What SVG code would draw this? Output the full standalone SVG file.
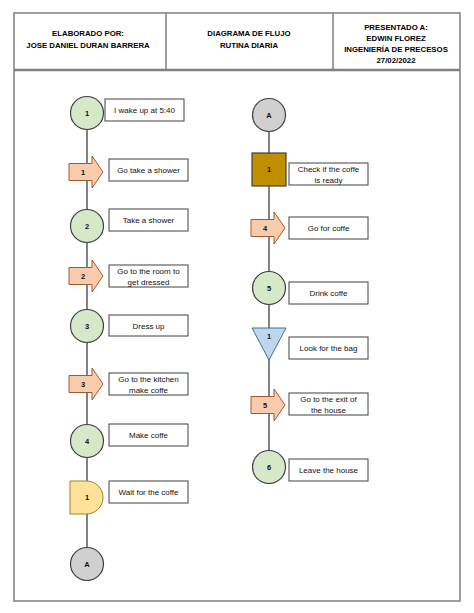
<svg xmlns="http://www.w3.org/2000/svg" width="474" height="613" viewBox="0 0 474 613">
<style>
.frame{fill:none;stroke:#7f7f7f;stroke-width:1.5}
.hdr{font-family:"Liberation Sans",Arial,sans-serif;font-size:7.8px;font-weight:bold;fill:#000;text-anchor:middle}
.lbl{font-family:"Liberation Sans",Arial,sans-serif;font-size:8px;fill:#111;text-anchor:middle}
.num{font-family:"Liberation Sans",Arial,sans-serif;font-size:7.5px;font-weight:bold;fill:#111;text-anchor:middle}
.box{fill:#fff;stroke:#404040;stroke-width:1}
.op{fill:#d5e8c8;stroke:#404040;stroke-width:1.2}
.con{fill:#d0d0d0;stroke:#404040;stroke-width:1.2}
.tr{fill:#f8cbad;stroke:#a05a2c;stroke-width:1}
.dl{fill:#ffe29a;stroke:#a08030;stroke-width:1}
.in{fill:#bf8f00;stroke:#404040;stroke-width:1.2}
.st{fill:#bdd7ee;stroke:#41719c;stroke-width:1}
.ln{stroke:#595959;stroke-width:1.5;fill:none}
</style>
<defs>
<path id="arr" d="M-18,-8.5 H5 V-16 L16,0 L5,16 V8.5 H-18 Z"/>
</defs>
<rect width="474" height="613" fill="#fff"/>
<g id="frame">
<rect class="frame" x="14" y="13" width="446" height="588"/>
<line x1="14" y1="70" x2="460" y2="70" stroke="#7f7f7f" stroke-width="2.5"/>
<line class="frame" x1="166" y1="13" x2="166" y2="70"/>
<line class="frame" x1="333" y1="13" x2="333" y2="70"/>
<text class="hdr" x="88" y="36">ELABORADO POR:</text>
<text class="hdr" x="88" y="48">JOSE DANIEL DURAN BARRERA</text>
<text class="hdr" x="249" y="36">DIAGRAMA DE FLUJO</text>
<text class="hdr" x="249" y="48">RUTINA DIARIA</text>
<text class="hdr" x="396" y="30">PRESENTADO A:</text>
<text class="hdr" x="396" y="41">EDWIN FLOREZ</text>
<text class="hdr" x="396" y="52">INGENIERÍA DE PRECESOS</text>
<text class="hdr" x="396" y="63">27/02/2022</text>
</g>
<g id="connectors">
<line class="ln" x1="87" y1="113" x2="87" y2="564"/>
<line class="ln" x1="269" y1="115" x2="269" y2="467"/>
</g>
<g id="n1"><circle class="op" cx="87" cy="113" r="16.5"/><text class="num" x="87" y="115.5">1</text>
<rect class="box" x="105" y="99" width="79" height="22"/><text class="lbl" x="144.5" y="113">I wake up at 5:40</text></g>
<g id="t1"><use href="#arr" class="tr" x="87" y="172"/><text class="num" x="83" y="174.5">1</text>
<rect class="box" x="109" y="159" width="79" height="22"/><text class="lbl" x="148.5" y="173">Go take a shower</text></g>
<g id="n2"><circle class="op" cx="87" cy="226" r="16.5"/><text class="num" x="87" y="228.5">2</text>
<rect class="box" x="109" y="209" width="79" height="22"/><text class="lbl" x="148.5" y="223">Take a shower</text></g>
<g id="t2"><use href="#arr" class="tr" x="87" y="276"/><text class="num" x="83" y="278.5">2</text>
<rect class="box" x="109" y="265" width="79" height="22"/><text class="lbl" x="148.5" y="274">Go to the room to</text><text class="lbl" x="148.5" y="284.5">get dressed</text></g>
<g id="n3"><circle class="op" cx="87" cy="326" r="16.5"/><text class="num" x="87" y="328.5">3</text>
<rect class="box" x="109" y="315" width="79" height="21"/><text class="lbl" x="148.5" y="328.5">Dress up</text></g>
<g id="t3"><use href="#arr" class="tr" x="87" y="384"/><text class="num" x="83" y="386.5">3</text>
<rect class="box" x="109" y="373" width="79" height="22"/><text class="lbl" x="148.5" y="382">Go to the kitchen</text><text class="lbl" x="148.5" y="392.5">make coffe</text></g>
<g id="n4"><circle class="op" cx="87" cy="441" r="16.5"/><text class="num" x="87" y="443.5">4</text>
<rect class="box" x="109" y="424" width="79" height="22"/><text class="lbl" x="148.5" y="438">Make coffe</text></g>
<g id="d1"><path class="dl" d="M70,481 H86.5 A16.5,16.5 0 0 1 86.5,514 H70 Z"/><text class="num" x="87" y="500">1</text>
<rect class="box" x="109" y="481" width="79" height="22"/><text class="lbl" x="148.5" y="495">Wait for the coffe</text></g>
<g id="cA1"><circle class="con" cx="87" cy="564" r="16.5"/><text class="num" x="87" y="566.5">A</text></g>
<g id="cA2"><circle class="con" cx="269" cy="115" r="16.5"/><text class="num" x="269" y="117.5">A</text></g>
<g id="i1"><rect class="in" x="252" y="153" width="34" height="33"/><text class="num" x="269" y="172">1</text>
<rect class="box" x="289" y="163" width="79" height="22"/><text class="lbl" x="328.5" y="172">Check if the coffe</text><text class="lbl" x="328.5" y="182.5">is ready</text></g>
<g id="t4"><use href="#arr" class="tr" x="269" y="228"/><text class="num" x="265" y="230.5">4</text>
<rect class="box" x="289" y="217" width="79" height="22"/><text class="lbl" x="328.5" y="231">Go for coffe</text></g>
<g id="n5"><circle class="op" cx="269" cy="288" r="16.5"/><text class="num" x="269" y="290.5">5</text>
<rect class="box" x="289" y="282" width="79" height="22"/><text class="lbl" x="328.5" y="296">Drink coffe</text></g>
<g id="s1"><path class="st" d="M252,328 H286 L269,360 Z"/><text class="num" x="269" y="339">1</text>
<rect class="box" x="289" y="337" width="79" height="22"/><text class="lbl" x="328.5" y="351">Look for the bag</text></g>
<g id="t5"><use href="#arr" class="tr" x="269" y="405"/><text class="num" x="265" y="407.5">5</text>
<rect class="box" x="289" y="393" width="79" height="22"/><text class="lbl" x="328.5" y="402">Go to the exit of</text><text class="lbl" x="328.5" y="412.5">the house</text></g>
<g id="n6"><circle class="op" cx="269" cy="467" r="16.5"/><text class="num" x="269" y="469.5">6</text>
<rect class="box" x="289" y="459" width="79" height="22"/><text class="lbl" x="328.5" y="473">Leave the house</text></g>
</svg>
